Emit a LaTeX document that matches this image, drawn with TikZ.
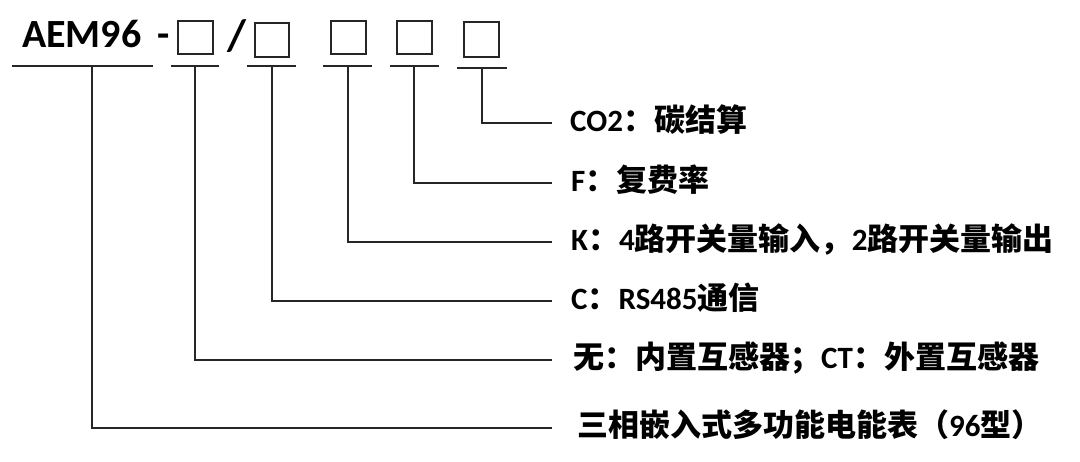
\documentclass[tikz,border=0pt]{standalone}
\usepackage{fontspec}
\setmainfont{Carlito}
\newfontfamily\cjk{Noto Sans CJK SC}[Scale=1.0]
\newcommand\zh[1]{{\cjk #1}}
\tikzset{
  ln/.style={line width=2pt, line join=miter, draw=black!85},
  cell/.style={draw=black!85, line width=2pt, fill=none},
  lbl/.style={anchor=base west, inner sep=0pt, font=\bfseries\fontsize{31}{31}\selectfont},
  title/.style={anchor=base west, inner sep=0pt, font=\bfseries\fontsize{40}{40}\selectfont},
  slashstyle/.style={anchor=base west, inner sep=0pt, font=\bfseries\fontsize{44}{44}\selectfont},
}
\begin{document}
\begin{tikzpicture}[x=1pt,y=-1pt]
\useasboundingbox (0,0) rectangle (1080,462);
% header
\node[title] (aem) at (22,48) {AEM96};
\node[title] (dash) at (157,48) {-};
\node[slashstyle] (slash) at (227,51) {/};
\draw[cell] (178,21) rectangle (213,54) node[pos=0.5] (b1) {};
\draw[cell] (255,23) rectangle (289,57) node[pos=0.5] (b2) {};
\draw[cell] (331,21) rectangle (366,54) node[pos=0.5] (b3) {};
\draw[cell] (397,21) rectangle (432,54) node[pos=0.5] (b4) {};
\draw[cell] (464,22) rectangle (499,57) node[pos=0.5] (b5) {};
% underlines
\draw[ln] (12,66) -- (153,66);
\draw[ln] (171,66) -- (219,66);
\draw[ln] (247,66) -- (296,66);
\draw[ln] (323,66) -- (372,66);
\draw[ln] (390,66) -- (439,66);
\draw[ln] (457,68) -- (507,68);
% tap points
\coordinate (t0) at (92,66);
\coordinate (t1) at (195,66);
\coordinate (t2) at (272,66);
\coordinate (t3) at (348,66);
\coordinate (t4) at (414,66);
\coordinate (t5) at (482,68);
% line ends
\coordinate (e5) at (552,123);
\coordinate (e4) at (552,183);
\coordinate (e3) at (552,242);
\coordinate (e2) at (552,301);
\coordinate (e1) at (552,360);
\coordinate (e0) at (552,428);
% labels
\node[lbl] (l5) at (570,132) {CO2\zh{：碳结算}};
\node[lbl] (l4) at (571,192) {F\zh{：复费率}};
\node[lbl] (l3) at (571,251) {K\zh{：}4\zh{路开关量输入，}2\zh{路开关量输出}};
\node[lbl] (l2) at (571,310) {C\zh{：}RS485\zh{通信}};
\node[lbl] (l1) at (573,369) {\zh{无：内置互感器；}CT\zh{：外置互感器}};
\node[lbl] (l0) at (577,437) {\zh{三相嵌入式多功能电能表（}96\zh{型）}};
% connectors
\draw[ln] (t5) |- (e5);
\draw[ln] (t4) |- (e4);
\draw[ln] (t3) |- (e3);
\draw[ln] (t2) |- (e2);
\draw[ln] (t1) |- (e1);
\draw[ln] (t0) |- (e0);
\end{tikzpicture}
\end{document}
